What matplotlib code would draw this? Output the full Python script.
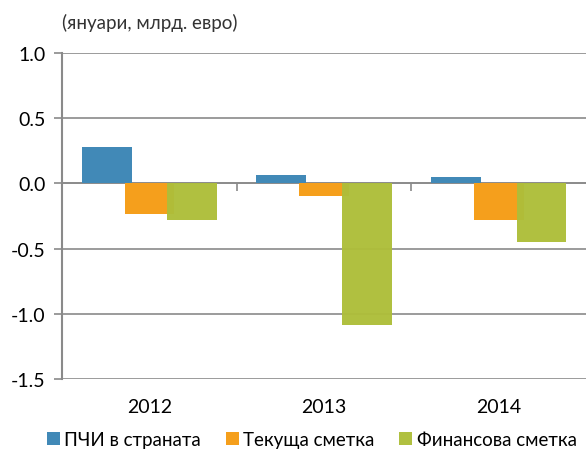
import matplotlib
matplotlib.use("Agg")
import matplotlib.pyplot as plt
import matplotlib.transforms as mtransforms
import numpy as np

years = ["2012", "2013", "2014"]
fdi = [0.28, 0.065, 0.05]
current = [-0.235, -0.095, -0.28]
financial = [-0.28, -1.09, -0.45]
series_names = ["ПЧИ в страната", "Текуща сметка", "Финансова сметка"]
colors = ["#4189b7", "#f59f1c", "#aebe3a"]
yticks = [1.0, 0.5, 0.0, -0.5, -1.0, -1.5]

grey = "#8a8a8a"
plt.rcParams["font.family"] = ["Lato", "DejaVu Sans"]

fig = plt.figure(figsize=(5.86, 4.60), dpi=100)
ax = fig.add_axes([0.106, 0.174, 0.894, 0.709])

x = np.arange(len(years))
width = 0.285
step = 0.245
for i, (vals, name, c) in enumerate(zip([fdi, current, financial], series_names, colors)):
    ax.bar(x + (i - 1) * step, vals, width, color=c, label=name, zorder=3 + i,
           alpha=0.97 if i == 2 else 1.0)

ax.set_xlim(-0.5, 2.5)
ax.set_ylim(-1.5, 1.0)
ax.set_yticks(yticks)
ax.set_yticklabels([f"{v:.1f}" for v in yticks], fontsize=14)
ax.yaxis.grid(True, color=grey, lw=1.2, zorder=1)
ax.set_axisbelow(True)

for s in ["top", "right"]:
    ax.spines[s].set_visible(False)
ax.spines["left"].set_color(grey)
ax.spines["left"].set_linewidth(1.5)
ax.spines["bottom"].set_position(("data", 0))
ax.spines["bottom"].set_color(grey)
ax.spines["bottom"].set_linewidth(1.2)
ax.spines["bottom"].set_zorder(2)
ax.tick_params(axis="y", color=grey, length=6, width=1.2, pad=6)
ax.set_xticks([0.5, 1.5])
ax.set_xticklabels([])
ax.tick_params(axis="x", color=grey, length=6, width=1.2)

trans = mtransforms.blended_transform_factory(ax.transData, ax.transAxes)
for xi, lab in zip(x, years):
    ax.text(xi, -0.085, lab, transform=trans, ha="center", va="center", fontsize=14)

fig.text(0.106, 0.950, "(януари, млрд. евро)", ha="left", va="center", fontsize=13.5,
         color="#333333")

fig.legend(loc="center", bbox_to_anchor=(0.532, 0.042), ncol=3, frameon=False,
           fontsize=13.5, handlelength=0.7, handleheight=0.7, handletextpad=0.25,
           columnspacing=1.3, borderaxespad=0)

fig.savefig("out.png", dpi=100)
